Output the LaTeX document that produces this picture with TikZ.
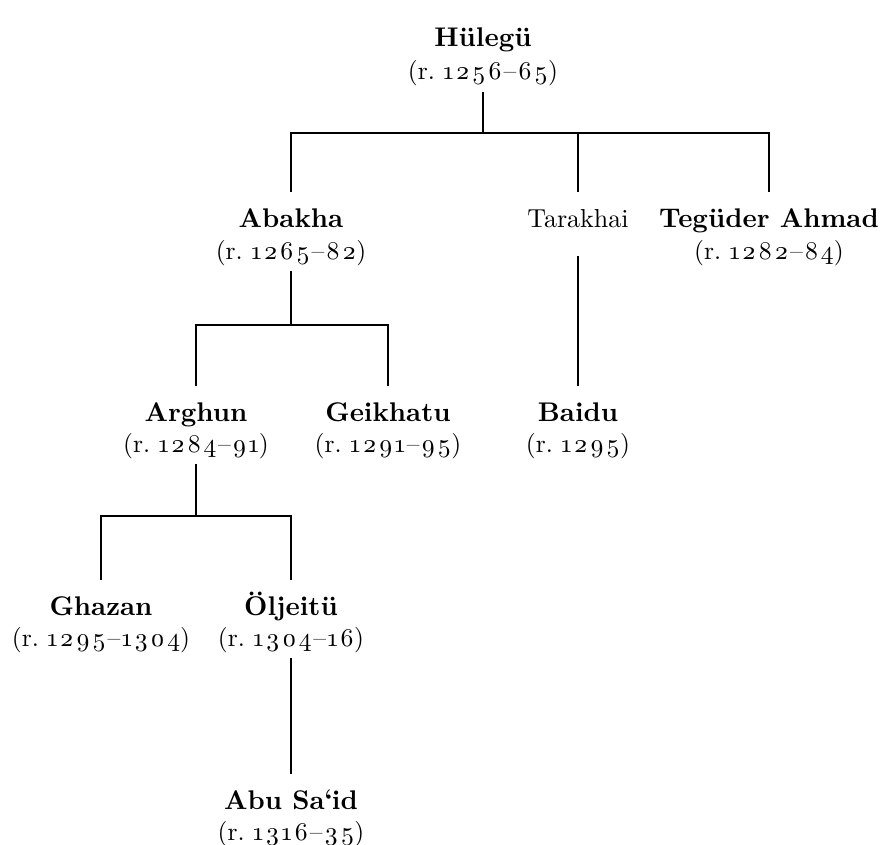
\documentclass[tikz,border=0pt]{standalone}
\usepackage{fontspec}
\setmainfont{lmroman10-regular.otf}[BoldFont=lmroman10-bold.otf]
\def\spyr#1{\ifx#1\relax\else\oldstylenums{#1}\expandafter\spyrnext\fi}
\def\spyrnext#1{\ifx#1\relax\else\kern2pt\oldstylenums{#1}\expandafter\spyrnext\fi}
\newcommand{\reignof}[2]{(r.~\spyr#1\relax\kern1.5pt--\kern1.5pt\spyr#2\relax)}
\newcommand{\reignyr}[1]{(r.~\spyr#1\relax)}
\begin{document}
\begin{tikzpicture}[x=1pt,y=-1pt]

      \tikzset{ruler/.style={font=\fontsize{27}{32}\selectfont\bfseries, anchor=base, inner sep=2pt, text height=20pt, text depth=7pt},
               kin/.style={font=\fontsize{26}{31}\selectfont, anchor=base, inner sep=2pt, text height=20pt, text depth=7pt},
               reign/.style={font=\fontsize{25.5}{30}\selectfont, anchor=base, inner sep=2pt, text height=20pt, text depth=7pt},
               stem/.style={line width=1.1pt, shorten <=3pt},
               drop/.style={line width=1.1pt, shorten >=13pt}}
      \useasboundingbox (0,0) rectangle (883,845);
%% Rulers
      	\node[ruler] (hul) at (483,47) {Hülegü};
      	\node[reign] (hulr) at (483,80) {\reignof{1256}{65}};
      	\node[ruler] (aba) at (291,227) {Abakha};
      	\node[reign] (abar) at (291,259) {\reignof{1265}{82}};
      	\node[kin] (tar) at (578,227) {Tarakhai};
      	\node[ruler] (teg) at (769,227) {Tegüder Ahmad};
      	\node[reign] (tegr) at (769,259) {\reignof{1282}{84}};
      	\node[ruler] (arg) at (196,421) {Arghun};
      	\node[reign] (argr) at (196,452) {\reignof{1284}{91}};
      	\node[ruler] (gei) at (388,421) {Geikhatu};
      	\node[reign] (geir) at (388,452) {\reignof{1291}{95}};
      	\node[ruler] (bai) at (578,421) {Baidu};
      	\node[reign] (bair) at (578,452) {\reignyr{1295}};
      	\node[ruler] (gha) at (101,615) {Ghazan};
      	\node[reign] (ghar) at (101,646) {\reignof{1295}{1304}};
      	\node[ruler] (olj) at (291,615) {Öljeitü};
      	\node[reign] (oljr) at (291,646) {\reignof{1304}{16}};
      	\node[ruler] (abu) at (291,809) {Abu Sa\kern-.5pt\raisebox{1pt}{\textquoteleft}\kern-1pt id};
      	\node[reign] (abur) at (291,840) {\reignof{1316}{35}};
%Joints
      	\coordinate (hulj) at (483,133);
      	\coordinate (abaj) at (291,325);
      	\coordinate (argj) at (196,516);
%Lines
		\draw[stem] (hulr) -- (hulj);
		\draw[drop] (hulj) -| (aba);
		\draw[drop] (hulj) -| (tar);
		\draw[drop] (hulj) -| (teg);
		\draw[stem] (abar) -- (abaj);
		\draw[drop] (abaj) -| (arg);
		\draw[drop] (abaj) -| (gei);
		\draw[drop, shorten <=20pt] (tar) -- (bai);
		\draw[stem] (argr) -- (argj);
		\draw[drop] (argj) -| (gha);
		\draw[drop] (argj) -| (olj);
		\draw[stem, drop] (oljr) -- (abu);

	\end{tikzpicture}
\end{document}
